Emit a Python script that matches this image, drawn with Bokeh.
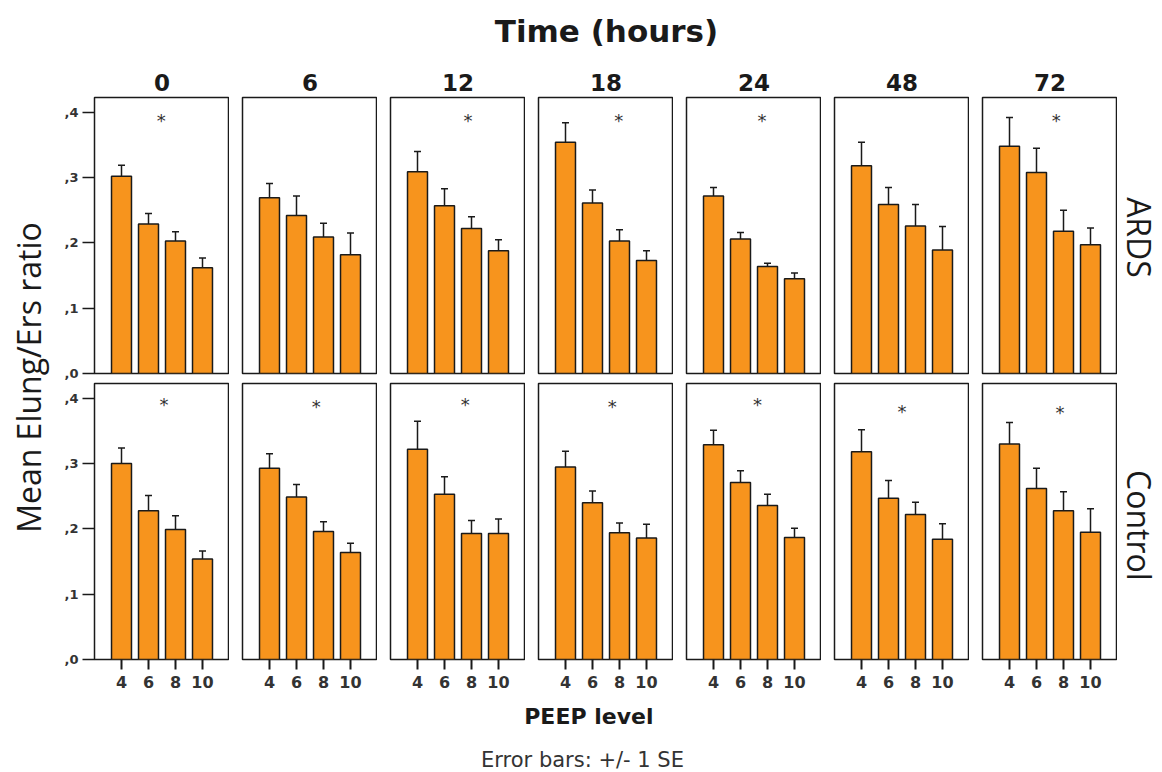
import math
from bokeh.plotting import figure
from bokeh.layouts import column, row
from bokeh.models import (ColumnDataSource, FactorRange, Range1d, FixedTicker,
                          CustomJSTickFormatter, Whisker, TeeHead, Label)
from bokeh.embed import file_html
from bokeh.resources import INLINE

# ---------------- data ----------------
peep_levels = ["4", "6", "8", "10"]
time_hours = ["0", "6", "12", "18", "24", "48", "72"]

ards_mean = [
    [0.302, 0.229, 0.203, 0.162],
    [0.269, 0.242, 0.209, 0.182],
    [0.309, 0.257, 0.222, 0.188],
    [0.354, 0.261, 0.203, 0.173],
    [0.272, 0.206, 0.164, 0.145],
    [0.318, 0.259, 0.226, 0.189],
    [0.348, 0.308, 0.218, 0.197],
]
ards_se = [
    [0.017, 0.016, 0.014, 0.015],
    [0.022, 0.030, 0.021, 0.033],
    [0.031, 0.026, 0.018, 0.017],
    [0.030, 0.020, 0.017, 0.015],
    [0.013, 0.010, 0.005, 0.009],
    [0.036, 0.026, 0.033, 0.036],
    [0.044, 0.037, 0.032, 0.026],
]
control_mean = [
    [0.300, 0.228, 0.199, 0.154],
    [0.293, 0.249, 0.196, 0.164],
    [0.322, 0.253, 0.193, 0.193],
    [0.295, 0.240, 0.194, 0.186],
    [0.329, 0.271, 0.236, 0.187],
    [0.318, 0.247, 0.222, 0.184],
    [0.330, 0.262, 0.228, 0.195],
]
control_se = [
    [0.024, 0.023, 0.021, 0.012],
    [0.022, 0.019, 0.015, 0.014],
    [0.043, 0.027, 0.020, 0.022],
    [0.024, 0.018, 0.015, 0.021],
    [0.022, 0.018, 0.017, 0.014],
    [0.034, 0.027, 0.019, 0.024],
    [0.033, 0.031, 0.029, 0.036],
]
ards_significant = [True, False, True, True, True, False, True]
control_significant = [True, True, True, True, True, True, True]
y_ticks = [0.0, 0.1, 0.2, 0.3, 0.4]

# ---------------- style ----------------
BAR = "#F7941D"
INK = "#1a1a1a"
FRAME_W, FRAME_H = 135, 276
GAP = 13
Y_MAX = 0.4227
ards_star_dx = [-0.03, 0.0, 0.37, 0.47, 0.30, 0.0, 0.23]
control_star_dx = [0.07, 0.23, 0.27, 0.23, 0.13, 0.0, 0.37]
ards_star_y = 0.387
control_star_y = [0.391, 0.388, 0.391, 0.388, 0.391, 0.380, 0.378]

LEFT_W = 56        # width of the y-label strip
AXIS_B = 38        # left border of first column (axis area)
TOP_B = 39
MID_TOP_B = 9      # space under the upper row
MID_BOT_B = 1      # space above the lower row
BOT_B = 41


def make_panel(col, row_idx, means, ses, sig, star_dx, star_y):
    first = col == 0
    bottom = row_idx == 1
    p = figure(frame_width=FRAME_W, frame_height=FRAME_H,
               x_range=FactorRange(*peep_levels, range_padding=0.5,
                                   range_padding_units="absolute"),
               y_range=Range1d(0, Y_MAX),
               x_axis_location="below" if bottom else None,
               y_axis_location="left" if first else None,
               output_backend="svg", toolbar_location=None, tools="")
    p.min_border_left = AXIS_B if first else GAP
    p.min_border_right = 0
    p.min_border_top = TOP_B if row_idx == 0 else MID_BOT_B
    p.min_border_bottom = BOT_B if bottom else MID_TOP_B
    p.grid.visible = False
    p.outline_line_color = INK
    p.outline_line_width = 1.5
    p.background_fill_color = "white"
    p.border_fill_color = "white"

    if row_idx == 0:
        p.title.text = time_hours[col]
        p.title.align = "center"
        p.title.text_font = "DejaVu Sans"
        p.title.text_font_size = "23px"
        p.title.text_font_style = "bold"
        p.title.text_color = INK
        p.title.standoff = 13

    if first:
        ax = p.yaxis[0]
        ax.ticker = FixedTicker(ticks=y_ticks)
        ax.formatter = CustomJSTickFormatter(code="return ',' + Math.round(tick * 10);")
        ax.major_label_text_font = "DejaVu Sans"
        ax.major_label_text_font_size = "13px"
        ax.major_label_text_font_style = "bold"
        ax.major_label_text_color = "#333333"
        ax.major_tick_out = 12
        ax.major_tick_in = 0
        ax.minor_tick_out = 0
        ax.minor_tick_in = 0
        ax.major_tick_line_color = INK
        ax.major_tick_line_width = 1.5
        ax.axis_line_color = None
        ax.major_label_standoff = 4

    if bottom:
        ax = p.xaxis[0]
        ax.major_label_text_font = "DejaVu Sans"
        ax.major_label_text_font_size = "16px"
        ax.major_label_text_font_style = "bold"
        ax.major_label_text_color = "#333333"
        ax.major_tick_out = 10
        ax.major_tick_in = 0
        ax.major_tick_line_color = INK
        ax.major_tick_line_width = 2
        ax.axis_line_color = None
        ax.major_label_standoff = 6

    src = ColumnDataSource(dict(
        x=peep_levels, top=means,
        upper=[m + s for m, s in zip(means, ses)]))
    p.vbar(x="x", top="top", width=0.74, source=src,
           fill_color=BAR, line_color=INK, line_width=1.5)
    p.add_layout(Whisker(base="x", upper="upper", lower="top", source=src,
                         line_color=INK, line_width=1.5,
                         upper_head=TeeHead(size=7, line_color=INK, line_width=1.5),
                         lower_head=None))
    if sig:
        p.add_layout(Label(x=2.0 + star_dx, y=star_y, text="*",
                           text_align="center", text_baseline="middle",
                           text_font="DejaVu Sans", text_font_size="18px",
                           text_color="#333333"))
    return p


def strip(w, h):
    f = figure(width=w, height=h, x_range=Range1d(0, w), y_range=Range1d(0, h),
               x_axis_location=None, y_axis_location=None,
               output_backend="svg", toolbar_location=None, tools="", min_border=0)
    f.outline_line_color = None
    f.grid.visible = False
    f.background_fill_color = "white"
    f.border_fill_color = "white"
    return f


top_row = [make_panel(i, 0, ards_mean[i], ards_se[i], ards_significant[i],
                      ards_star_dx[i], ards_star_y) for i in range(7)]
bottom_row = [make_panel(i, 1, control_mean[i], control_se[i], control_significant[i],
                         control_star_dx[i], control_star_y[i]) for i in range(7)]

GRID_W = LEFT_W + AXIS_B + FRAME_W + 6 * (GAP + FRAME_W)
RIGHT_W = 1160 - GRID_W
TOTAL_W = GRID_W + RIGHT_W
GRID_H = (TOP_B + FRAME_H + MID_TOP_B) + (MID_BOT_B + FRAME_H + BOT_B)
TITLE_H = 58
BOTTOM_H = 70

title_fig = strip(TOTAL_W, TITLE_H)
title_fig.add_layout(Label(x=606, y=TITLE_H - 30, text="Time (hours)", text_align="center",
                           text_baseline="middle", text_font="DejaVu Sans",
                           text_font_size="31px", text_font_style="bold",
                           text_color=INK))

ylab_fig = strip(LEFT_W, GRID_H)
ylab_fig.add_layout(Label(x=28, y=GRID_H - (377 - TITLE_H), text="Mean Elung/Ers ratio",
                          angle=math.pi / 2, text_align="center",
                          text_baseline="middle", text_font="Open Sans",
                          text_font_size="32px", text_color=INK))

right_fig = strip(RIGHT_W, GRID_H)
for txt, yc in (("ARDS", 237), ("Control", 525)):
    right_fig.add_layout(Label(x=RIGHT_W / 2, y=GRID_H - (yc - TITLE_H), text=txt,
                               angle=-math.pi / 2, text_align="center",
                               text_baseline="middle", text_font="Open Sans",
                               text_font_size="32px", text_color=INK))

bottom_fig = strip(TOTAL_W, BOTTOM_H)
top_of_bottom = TITLE_H + GRID_H
bottom_fig.add_layout(Label(x=596, y=BOTTOM_H - (716 - top_of_bottom), text="PEEP   level",
                            text_align="center", text_baseline="middle",
                            text_font="DejaVu Sans", text_font_size="22px",
                            text_font_style="bold", text_color=INK))
bottom_fig.add_layout(Label(x=582, y=BOTTOM_H - (759 - top_of_bottom),
                            text="Error bars: +/- 1 SE",
                            text_align="center", text_baseline="middle",
                            text_font="DejaVu Sans", text_font_size="21px",
                            text_color="#333333"))

grid = column(row(*top_row), row(*bottom_row))
layout = column(title_fig, row(ylab_fig, grid, right_fig), bottom_fig)

open("out.html", "w").write(file_html(layout, INLINE))
